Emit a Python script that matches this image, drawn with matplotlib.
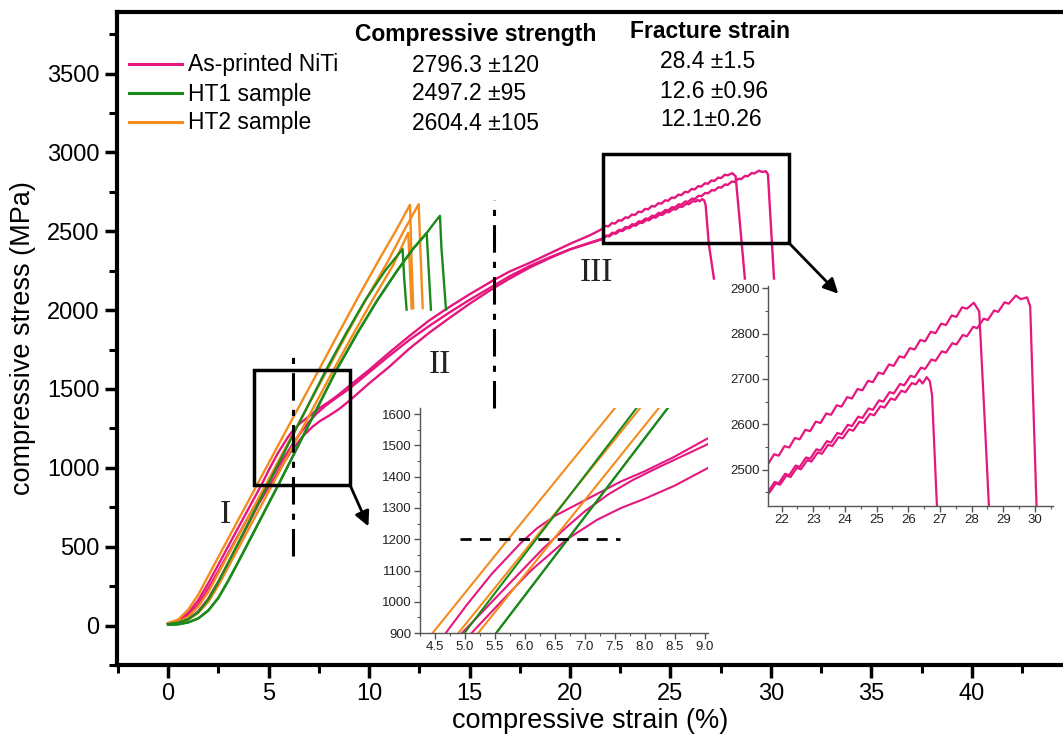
import matplotlib
matplotlib.use('Agg')
import matplotlib.pyplot as plt
from matplotlib.patches import Rectangle
from matplotlib.lines import Line2D
from matplotlib.ticker import MultipleLocator, FormatStrFormatter

plt.rcParams['font.family'] = ['Liberation Sans', 'DejaVu Sans']

# ---------------- data (strain %, stress MPa) ----------------
pink_color = '#E5177F'
green_color = '#1B8A1B'
orange_color = '#F48C1C'

# As-printed NiTi (three samples)
p1_x = [0, 0.5, 1.0, 1.5, 2.0, 2.5, 3.0, 3.5, 4.0, 4.68, 5.03, 5.45, 5.94, 6.2, 6.5, 6.8, 7.2, 7.6, 8.0, 8.5, 9.0,
        10, 11, 12, 13, 14, 15, 16.2, 17, 18, 19, 20, 21,
        21.58, 21.76, 21.91, 22.09, 22.24, 22.42, 22.57, 22.75, 22.90, 23.08, 23.23, 23.41, 23.56, 23.74,
        23.89, 24.07, 24.22, 24.40, 24.55, 24.73, 24.88, 25.06, 25.21, 25.39, 25.54, 25.72, 25.87, 26.05,
        26.20, 26.38, 26.53, 26.71, 26.86, 27.04, 27.19, 27.37, 27.52, 27.70, 27.85, 28.07,
        28.24, 28.42, 28.7]
p1_y = [15, 30, 80, 160, 268, 385, 504, 622, 740, 900, 990, 1090, 1190, 1235, 1275, 1305, 1345, 1385, 1418, 1465,
        1518, 1620, 1730, 1835, 1935, 2020, 2100, 2190, 2245, 2300, 2360, 2420, 2475,
        2513, 2534, 2531, 2552, 2549, 2570, 2567, 2588, 2585, 2606, 2603, 2624, 2621, 2642,
        2639, 2660, 2657, 2678, 2675, 2696, 2693, 2714, 2711, 2732, 2729, 2750, 2747, 2768,
        2765, 2786, 2783, 2804, 2801, 2822, 2819, 2840, 2837, 2858, 2855, 2868,
        2849, 2600, 2200]
p2_x = [0, 0.5, 1.0, 1.5, 2.0, 2.5, 3.0, 3.5, 4.0, 4.5, 4.95, 5.5, 5.9, 6.3, 6.7, 7.0, 7.4, 7.8, 8.2, 8.6, 9.0,
        10, 11, 12, 13, 14, 15, 16.2, 17, 18, 19, 20, 21,
        21.62, 21.82, 21.95, 22.15, 22.28, 22.48, 22.61, 22.81, 22.94, 23.14, 23.27, 23.47, 23.60, 23.80,
        23.93, 24.13, 24.26, 24.46, 24.59, 24.79, 24.92, 25.12, 25.25, 25.45, 25.58, 25.78, 25.91, 26.11,
        26.24, 26.35, 26.45, 26.58, 26.68, 26.75, 26.9, 27.16]
p2_y = [13, 25, 65, 135, 235, 345, 460, 575, 690, 800, 900, 1010, 1090, 1170, 1240, 1290, 1345, 1390, 1428,
        1464, 1500, 1605, 1710, 1810, 1900, 1985, 2065, 2155, 2215, 2280, 2335, 2385, 2425,
        2450, 2470, 2467, 2487, 2484, 2504, 2501, 2521, 2518, 2538, 2535, 2555, 2552, 2572,
        2569, 2589, 2586, 2606, 2603, 2623, 2620, 2640, 2637, 2657, 2654, 2674, 2671, 2691,
        2688, 2699, 2690, 2704, 2695, 2665, 2427, 2200]
p3_x = [0, 0.5, 1.0, 1.5, 2.0, 2.5, 3.0, 3.5, 4.0, 4.5, 5.11, 5.6, 6.1, 6.7, 7.2, 7.6, 8.0, 8.5, 9.0,
        10, 11, 12, 13, 14, 15, 16.2, 17, 18, 19, 20, 21,
        21.58, 21.78, 21.91, 22.11, 22.24, 22.44, 22.57, 22.77, 22.90, 23.10, 23.23, 23.43, 23.56, 23.76,
        23.89, 24.09, 24.22, 24.42, 24.55, 24.75, 24.88, 25.08, 25.21, 25.41, 25.54, 25.74, 25.87, 26.07,
        26.20, 26.40, 26.53, 26.73, 26.86, 27.06, 27.19, 27.39, 27.52, 27.72, 27.85, 28.05, 28.18, 28.38,
        28.51, 28.71, 28.84, 29.04, 29.17, 29.40, 29.55, 29.75, 29.85, 30.15]
p3_y = [12, 18, 40, 90, 170, 280, 398, 520, 645, 770, 900, 1000, 1100, 1200, 1262, 1300, 1330, 1372, 1423,
        1535, 1640, 1755, 1857, 1950, 2040, 2140, 2200, 2270, 2330, 2385, 2428,
        2452, 2473, 2470, 2491, 2488, 2509, 2506, 2527, 2524, 2545, 2542, 2563, 2560, 2581,
        2578, 2599, 2596, 2617, 2614, 2635, 2632, 2653, 2650, 2671, 2668, 2689, 2686, 2707,
        2704, 2725, 2722, 2743, 2740, 2761, 2758, 2779, 2776, 2797, 2794, 2815, 2812, 2833,
        2830, 2851, 2848, 2869, 2866, 2884, 2876, 2880, 2860, 2200]

# HT1 sample
g1_x = [0, 0.5, 1.0, 1.5, 2.0, 2.5, 3.0, 3.5, 4.0, 4.5, 4.99, 7.86, 8.8, 9.8, 10.8, 11.67, 11.75, 11.87]
g1_y = [10, 18, 40, 85, 165, 275, 400, 526, 651, 777, 900, 1620, 1840, 2060, 2250, 2387, 2200, 2003]
g2_x = [0, 0.5, 1.0, 1.5, 2.0, 2.5, 3.0, 3.5, 4.0, 4.5, 5.0, 5.52, 8.38, 9.4, 10.4, 11.4, 12.2, 12.87,
        12.95, 13.08]
g2_y = [5, 8, 20, 45, 95, 175, 285, 405, 527, 650, 773, 900, 1620, 1850, 2060, 2250, 2390, 2489, 2300, 2003]
g3_x = [0, 0.5, 1.0, 1.5, 2.0, 2.5, 3.0, 3.5, 4.0, 4.5, 5.0, 5.52, 8.38, 9.4, 10.4, 11.4, 12.2, 12.87,
        13.2, 13.53, 13.6, 13.83]
g3_y = [5, 8, 20, 45, 95, 175, 285, 405, 527, 650, 773, 900, 1620, 1850, 2060, 2250, 2390, 2489,
        2545, 2598, 2400, 2003]

# HT2 sample
o1_x = [0, 0.5, 1.0, 1.5, 2.0, 2.5, 3.0, 3.5, 4.0, 4.46, 5.72, 7.5, 8.5, 9.5, 10.5, 11.3, 12.04, 12.12, 12.2]
o1_y = [15, 38, 100, 195, 315, 434, 553, 672, 790, 900, 1200, 1620, 1858, 2092, 2320, 2495, 2668, 2300, 2013]
o2_x = [0, 0.5, 1.0, 1.5, 2.0, 2.5, 3.0, 3.5, 4.0, 4.5, 4.89, 7.92, 8.9, 9.9, 10.9, 11.7, 12.47, 12.55, 12.67]
o2_y = [12, 22, 55, 120, 212, 331, 450, 569, 688, 807, 900, 1620, 1850, 2080, 2300, 2495, 2672, 2400, 2013]
o3_x = [0, 0.5, 1.0, 1.5, 2.0, 2.5, 3.0, 3.5, 4.0, 4.5, 5.22, 8.23, 9.2, 10.2, 11.2, 11.95, 12.02, 12.12]
o3_y = [12, 18, 38, 80, 150, 253, 372, 491, 610, 729, 900, 1620, 1845, 2070, 2285, 2490, 2300, 2010]

pink_curves = [(p1_x, p1_y), (p2_x, p2_y), (p3_x, p3_y)]
green_curves = [(g1_x, g1_y), (g2_x, g2_y), (g3_x, g3_y)]
orange_curves = [(o1_x, o1_y), (o2_x, o2_y), (o3_x, o3_y)]

legend_labels = ['As-printed NiTi', 'HT1 sample', 'HT2 sample']
strength_text = ['2796.3 \u00b1120', '2497.2 \u00b195', '2604.4 \u00b1105']
fracture_text = ['28.4 \u00b11.5', '12.6 \u00b10.96', '12.1\u00b10.26']

main_xticks = [0, 5, 10, 15, 20, 25, 30, 35, 40]
main_yticks = [0, 500, 1000, 1500, 2000, 2500, 3000, 3500]
inset1_xticks = [4.5, 5.0, 5.5, 6.0, 6.5, 7.0, 7.5, 8.0, 8.5, 9.0]
inset1_yticks = [900, 1000, 1100, 1200, 1300, 1400, 1500, 1600]
inset2_xticks = [22, 23, 24, 25, 26, 27, 28, 29, 30]
inset2_yticks = [2500, 2600, 2700, 2800, 2900]

# ---------------- figure ----------------
W, H = 1063, 742
fig = plt.figure(figsize=(W / 100, H / 100), dpi=100)


def fx(px):
    return px / W


def fy(py):
    return 1 - py / H


ax = fig.add_axes([fx(117), fy(665), fx(1063) - fx(117), fy(12) - fy(665)])
ax.set_xlim(-2.54, 44.53)
ax.set_ylim(-250, 3890)

for curves, col in [(pink_curves, pink_color), (orange_curves, orange_color), (green_curves, green_color)]:
    for cx, cy in curves:
        ax.plot(cx, cy, color=col, lw=1.7, solid_joinstyle='round')

for side in ['left', 'bottom', 'top']:
    ax.spines[side].set_linewidth(3)
ax.spines['right'].set_visible(False)
ax.set_xticks(main_xticks)
ax.set_yticks(main_yticks)
ax.xaxis.set_minor_locator(MultipleLocator(2.5))
ax.yaxis.set_minor_locator(MultipleLocator(250))
ax.tick_params(which='major', direction='out', length=9, width=2.5, labelsize=17, top=False, right=False)
ax.tick_params(which='minor', direction='out', length=6, width=2.2, top=False, right=False)
ax.tick_params(axis='x', pad=4)
ax.set_xlabel('compressive strain (%)', fontsize=19.5, labelpad=2)
ax.set_ylabel('compressive stress (MPa)', fontsize=19.5, labelpad=8)

# dash-dot region separators
ax.plot([6.2, 6.2], [439, 1749], color='k', lw=2.2, dashes=(9, 3, 2, 3))
ax.plot([16.2, 16.2], [1380, 2700], color='k', lw=2.2, dashes=(9, 3, 2, 3))

# zoom boxes and arrows
ax.add_patch(Rectangle((4.28, 892), 4.77, 730, fill=False, lw=2.5, ec='k', zorder=5))
ax.add_patch(Rectangle((21.66, 2425), 9.24, 566, fill=False, lw=2.5, ec='k', zorder=5))
ax.annotate('', xy=(9.97, 629), xytext=(9.05, 892),
            arrowprops=dict(arrowstyle='-|>', lw=2, color='k', mutation_scale=22, shrinkA=0, shrinkB=0))
ax.annotate('', xy=(33.35, 2104), xytext=(30.9, 2425),
            arrowprops=dict(arrowstyle='-|>', lw=2, color='k', mutation_scale=22, shrinkA=0, shrinkB=0))

# region labels
for txt, xx, yy in [('I', 2.84, 703), ('II', 13.53, 1654), ('III', 21.34, 2237)]:
    ax.text(xx, yy, txt, fontsize=24, family=['Liberation Serif', 'DejaVu Serif'], ha='center', va='center',
            color='#222222')

# legend / table
leg_colors = [pink_color, green_color, orange_color]
row_y = [64, 93, 122]
for lab, col, yy, s, f in zip(legend_labels, leg_colors, row_y, strength_text, fracture_text):
    fig.add_artist(Line2D([fx(129), fx(182)], [fy(yy), fy(yy)], color=col, lw=2.2, transform=fig.transFigure))
    fig.text(fx(188), fy(yy + 1), lab, fontsize=16.5, ha='left', va='center')
    fig.text(fx(412), fy(yy + 1), s, fontsize=16.5, ha='left', va='center')
    fig.text(fx(660), fy(yy - 2), f, fontsize=16.5, ha='left', va='center')
fig.text(fx(355), fy(35), 'Compressive strength', fontsize=16.5, fontweight='bold', ha='left', va='center')
fig.text(fx(630), fy(32), 'Fracture strain', fontsize=16.5, fontweight='bold', ha='left', va='center')


def style_inset(a):
    for side in ['top', 'right']:
        a.spines[side].set_visible(False)
    for side in ['left', 'bottom']:
        a.spines[side].set_linewidth(1.0)
        a.spines[side].set_color('#555555')
    a.tick_params(which='major', direction='out', length=4, width=1, labelsize=9.5, colors='#555555',
                  labelcolor='#222222', pad=2)
    a.tick_params(which='minor', direction='out', length=2.5, width=0.8, colors='#555555')
    a.patch.set_alpha(0)


# inset 1 : elastic region
ax1 = fig.add_axes([fx(420), fy(633), fx(708) - fx(420), fy(408) - fy(633)])
for curves, col in [(pink_curves, pink_color), (orange_curves, orange_color), (green_curves, green_color)]:
    for cx, cy in curves:
        ax1.plot(cx, cy, color=col, lw=1.5)
ax1.plot([4.92, 7.58], [1200, 1200], color='k', lw=2, dashes=(4, 3))
ax1.set_xlim(4.25, 9.05)
ax1.set_ylim(900, 1620)
ax1.set_xticks(inset1_xticks)
ax1.set_yticks(inset1_yticks)
ax1.xaxis.set_major_formatter(FormatStrFormatter('%.1f'))
ax1.xaxis.set_minor_locator(MultipleLocator(0.25))
ax1.yaxis.set_minor_locator(MultipleLocator(50))
style_inset(ax1)

# inset 2 : fracture region
ax2 = fig.add_axes([fx(768), fy(506), fx(1053) - fx(768), fy(286) - fy(506)])
for cx, cy in pink_curves:
    ax2.plot(cx, cy, color=pink_color, lw=1.6, solid_joinstyle='round')
ax2.set_xlim(21.57, 30.57)
ax2.set_ylim(2420, 2905)
ax2.set_xticks(inset2_xticks)
ax2.set_yticks(inset2_yticks)
ax2.xaxis.set_minor_locator(MultipleLocator(0.5))
ax2.yaxis.set_minor_locator(MultipleLocator(50))
style_inset(ax2)

fig.savefig('out.png', dpi=100)
